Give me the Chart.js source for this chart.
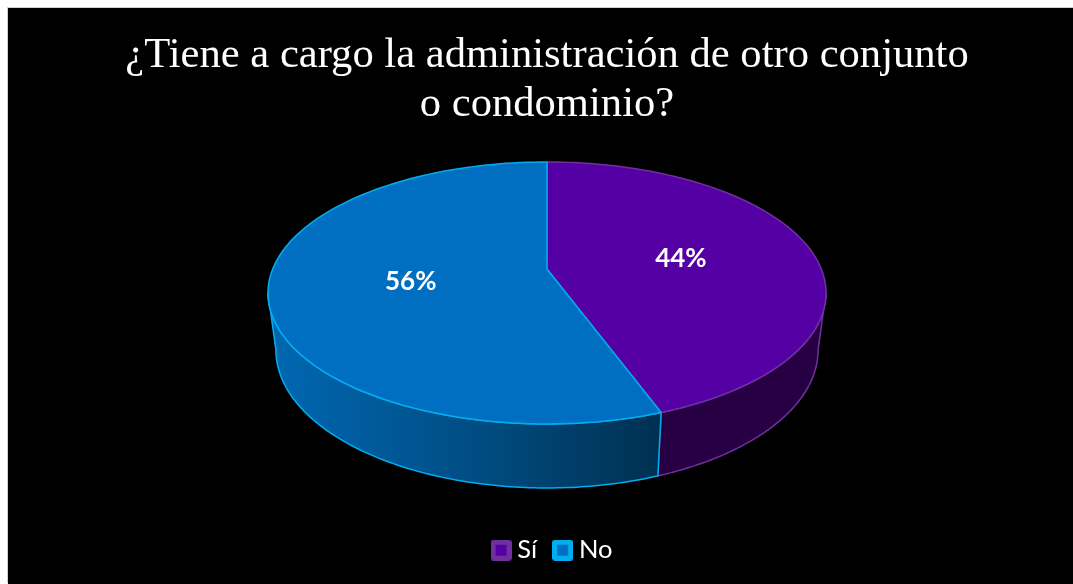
<!DOCTYPE html>
<html lang="es">
<head>
<meta charset="utf-8">
<title>¿Tiene a cargo la administración de otro conjunto o condominio?</title>
<script src="https://cdn.jsdelivr.net/npm/chart.js@4"></script>
<style>
  html, body { margin: 0; height: 100%; background: #fff; overflow: hidden; }
  #wrap { position: absolute; left: 8px; top: 8px; box-shadow: -1px -1px 0 #d0d0d0; }
  canvas { display: block; background: #000; }
</style>
</head>
<body>
<div id="wrap"><canvas id="pie" width="1078" height="576"></canvas></div>
<script>
// Data
const categories = ['Sí', 'No'];
const values = [44.4, 55.6];
const titleLines = ['¿Tiene a cargo la administración de otro conjunto', 'o condominio?'];

// Colours
const topColors = ['#5500A5', '#006FC1'];
const edgeColors = ['#7030A0', '#00AEEF'];

// Perspective of the disc, canvas px. k tilts the circle towards the viewer.
const k = -0.183;
const topRim = { cx: 539, y0: 261, a: 274.3, b: 126.6 };
const baseRim = { cx: 539, y0: 316.7, a: 266.5, b: 133.4 };
const sideStart = Math.asin(-k);           // where the silhouette of the disc is

function project(rim, angle, r) {
  const u = r * Math.cos(angle), v = r * Math.sin(angle), w = 1 + k * v;
  return [rim.cx + rim.a * u / w, rim.y0 + rim.b * v / w];
}

function rimPath(ctx, rim, from, to, lineTo) {
  const steps = 120;
  for (let i = 0; i <= steps; i++) {
    const p = project(rim, from + (to - from) * i / steps, 1);
    if (i === 0 && !lineTo) ctx.moveTo(p[0], p[1]); else ctx.lineTo(p[0], p[1]);
  }
}

function wallFill(ctx, index) {
  if (index === 0) return '#260042';
  const g = ctx.createLinearGradient(267, 0, 648, 0);
  g.addColorStop(0, '#0067B2');
  g.addColorStop(0.5, '#004E85');
  g.addColorStop(1, '#003152');
  return g;
}

// ── Draws the library's arcs through the perspective above ──────────────
const disc3d = {
  id: 'disc3d',
  beforeDatasetDraw(chart, args) {
    const ctx = chart.ctx;
    const arcs = chart.getDatasetMeta(args.index).data;
    ctx.save();
    ctx.lineJoin = 'round';

    // walls: only what lies between the two silhouette points is visible
    arcs.forEach((arc, i) => {
      const from = Math.max(arc.startAngle, sideStart);
      const to = Math.min(arc.endAngle, Math.PI - sideStart);
      if (to <= from) return;
      ctx.beginPath();
      rimPath(ctx, topRim, from, to, false);
      rimPath(ctx, baseRim, to, from, true);
      ctx.closePath();
      ctx.fillStyle = wallFill(ctx, i);
      ctx.fill();
      ctx.strokeStyle = edgeColors[i];
      ctx.lineWidth = 1.5;
      ctx.stroke();
    });

    // top face
    arcs.forEach((arc, i) => {
      const apex = project(topRim, 0, 0);
      ctx.beginPath();
      ctx.moveTo(apex[0], apex[1]);
      rimPath(ctx, topRim, arc.startAngle, arc.endAngle, true);
      ctx.closePath();
      ctx.fillStyle = topColors[i];
      ctx.fill();
      ctx.strokeStyle = edgeColors[i];
      ctx.lineWidth = 1.5;
      ctx.stroke();
    });

    // percentage labels
    ctx.fillStyle = '#fff';
    ctx.font = 'bold 26px Lato';
    ctx.textAlign = 'center';
    ctx.textBaseline = 'middle';
    const total = values.reduce((a, b) => a + b, 0);
    arcs.forEach((arc, i) => {
      const p = project(topRim, (arc.startAngle + arc.endAngle) / 2, 0.5);
      ctx.fillText(Math.round(values[i] / total * 100) + '%', p[0] + 1, p[1] + 1);
    });
    ctx.restore();
    return false;
  },
  afterLayout(chart) {
    // legend sits a little right of the centre in the original
    chart.legend.left += 8;
    chart.legend.right += 8;
  }
};

function legendSwatch(fill, edge) {
  const c = document.createElement('canvas');
  c.width = 21; c.height = 21;
  const g = c.getContext('2d');
  g.fillStyle = edge;
  g.beginPath();
  g.roundRect(0, 0, 21, 21, 3);
  g.fill();
  g.fillStyle = fill;
  g.fillRect(5, 5, 11, 11);
  return c;
}

new Chart(document.getElementById('pie'), {
  type: 'pie',
  data: {
    labels: categories,
    datasets: [{ data: values, backgroundColor: topColors, borderColor: edgeColors }]
  },
  options: {
    responsive: false,
    animation: false,
    events: [],
    layout: { padding: { bottom: 11 } },
    plugins: {
      tooltip: { enabled: false },
      title: {
        display: true,
        text: titleLines,
        color: '#fff',
        font: { family: '"Liberation Serif"', size: 42.6, weight: 'normal', lineHeight: 1.16 },
        padding: { top: 23, bottom: 10 }
      },
      legend: {
        position: 'bottom',
        labels: {
          color: '#fff',
          font: { family: 'Lato', size: 25.5 },
          usePointStyle: true,
          pointStyleWidth: 7,
          boxWidth: 21,
          boxHeight: 21,
          padding: 22,
          generateLabels: () => categories.map((name, i) => ({
            text: name,
            fontColor: '#fff',
            pointStyle: legendSwatch(topColors[i], edgeColors[i]),
            lineWidth: 0,
            datasetIndex: 0,
            index: i
          }))
        }
      }
    }
  },
  plugins: [disc3d]
});
</script>
</body>
</html>
